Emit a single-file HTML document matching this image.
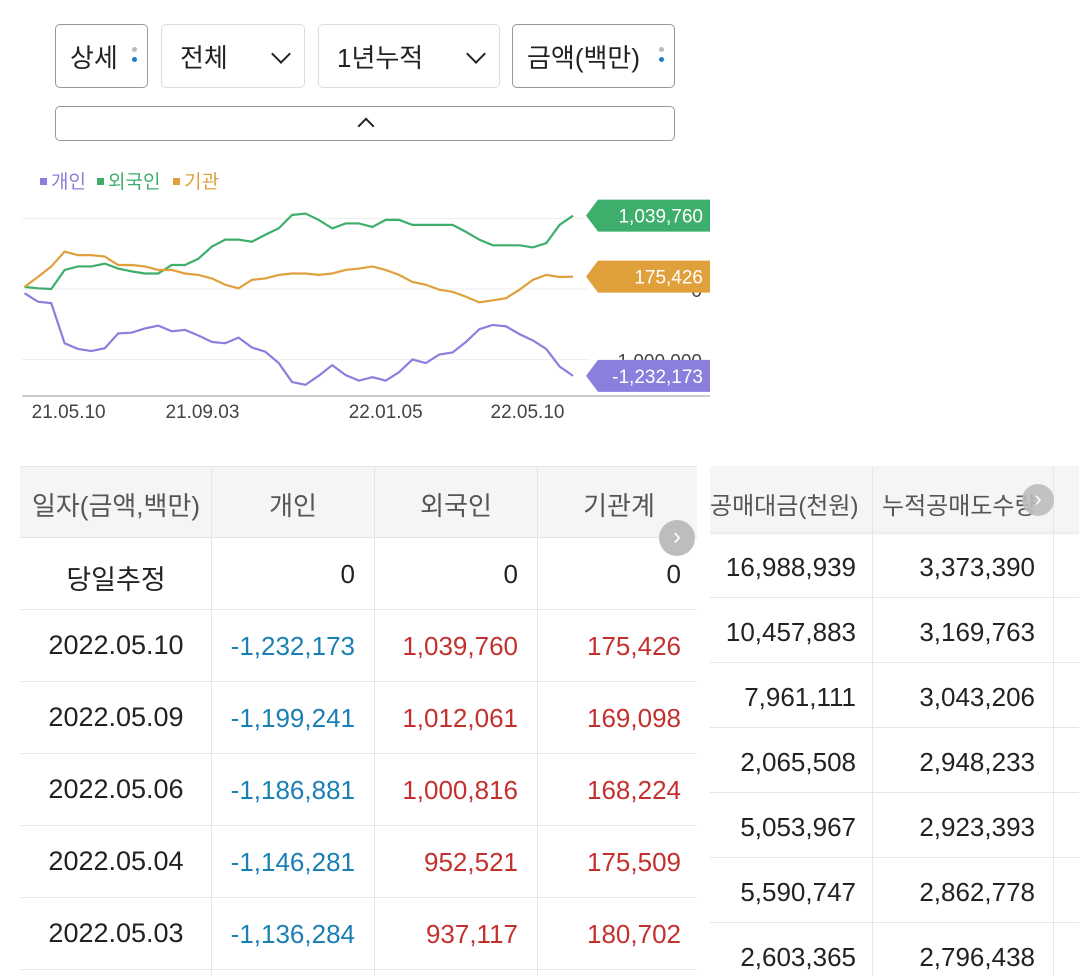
<!DOCTYPE html>
<html><head><meta charset="utf-8">
<style>
*{box-sizing:border-box;margin:0;padding:0}
body{width:1079px;height:976px;background:#fff;font-family:"Liberation Sans","Noto Sans CJK KR",sans-serif;position:relative;overflow:hidden;color:#222}
.box{position:absolute;top:24px;height:64px;border:1px solid #ddd;border-radius:5px;font-size:26px;display:flex;align-items:center;padding-left:14px}
.box.dark{border-color:#999}
.dots{position:absolute;right:10px;top:22px;width:5px}
.dots i{display:block;width:5px;height:5px;border-radius:50%;margin-bottom:5px}
.chev{position:absolute;right:16px;top:22px;width:14px;height:14px;border-right:2.5px solid #222;border-bottom:2.5px solid #222;transform:rotate(45deg)}
.t{position:absolute;font-size:26px;white-space:nowrap}
.r{text-align:right}
.c{text-align:center}
.hl{position:absolute;height:1px;background:#e6e6e6}
.vl{position:absolute;width:1px;background:#e6e6e6}
.blue{color:#1a7fb5}.red{color:#c3312e}
</style></head><body>
<div class="box dark" style="left:55px;width:93px">상세<div class="dots"><i style="background:#bbb"></i><i style="background:#1a7fc8"></i></div></div>
<div class="box" style="left:161px;width:144px;padding-left:18px">전체<div class="chev"></div></div>
<div class="box" style="left:318px;width:182px;padding-left:18px">1년누적<div class="chev"></div></div>
<div class="box dark" style="left:512px;width:163px">금액(백만)<div class="dots"><i style="background:#bbb"></i><i style="background:#1a7fc8"></i></div></div>
<div style="position:absolute;left:55px;top:106px;width:620px;height:35px;border:1px solid #999;border-radius:5px"><div style="position:absolute;left:304px;top:13px;width:12px;height:12px;border-left:2.5px solid #222;border-top:2.5px solid #222;transform:rotate(45deg)"></div></div>

<svg id="chart" style="position:absolute;left:0;top:160px" width="720" height="270"></svg>

<div style="position:absolute;left:20px;top:466px;width:677px;height:71px;background:#f5f5f5"></div>
<div class="hl" style="left:20px;top:466px;width:677px"></div>
<div id="lt"></div>
<div style="position:absolute;left:710px;top:466px;width:369px;height:69px;background:#f5f5f5"></div>
<div id="rt"></div>
<div style="position:absolute;left:659px;top:520px;width:36px;height:36px;border-radius:50%;background:#bdbdbd;color:#fff;font-size:24px;text-align:center;line-height:34px">›</div>
<div style="position:absolute;left:1022px;top:484px;width:32px;height:32px;border-radius:50%;background:#bdbdbd;color:#fff;font-size:22px;text-align:center;line-height:30px;opacity:.9">›</div>

<script>
const NS="http://www.w3.org/2000/svg";
const personal=[-0.06,-0.18,-0.20,-0.77,-0.85,-0.88,-0.84,-0.63,-0.62,-0.56,-0.52,-0.60,-0.58,-0.66,-0.75,-0.77,-0.69,-0.83,-0.89,-1.05,-1.32,-1.36,-1.23,-1.08,-1.22,-1.30,-1.25,-1.30,-1.18,-1.00,-1.05,-0.93,-0.90,-0.75,-0.57,-0.51,-0.53,-0.64,-0.73,-0.85,-1.10,-1.232];
const foreign=[0.03,0.01,0.0,0.27,0.32,0.32,0.36,0.29,0.25,0.22,0.22,0.34,0.34,0.43,0.60,0.70,0.70,0.67,0.77,0.86,1.05,1.07,0.98,0.86,0.93,0.93,0.88,0.98,0.98,0.91,0.91,0.91,0.91,0.81,0.70,0.62,0.62,0.62,0.59,0.65,0.91,1.04];
const inst=[0.03,0.17,0.32,0.53,0.48,0.48,0.46,0.34,0.34,0.32,0.27,0.27,0.22,0.20,0.15,0.06,0.01,0.13,0.15,0.20,0.22,0.22,0.20,0.22,0.27,0.29,0.32,0.27,0.20,0.10,0.06,-0.01,-0.04,-0.11,-0.19,-0.16,-0.13,-0.01,0.13,0.20,0.17,0.175];
const legendNames=["개인","외국인","기관"];
const lastLabels=["-1,232,173","1,039,760","175,426"];
const yTicks=[1,0,-1];
const yTickLabels=["1,000,000","0","-1,000,000"];
const xTicks=["21.05.10","21.09.03","22.01.05","22.05.10"];
const xTickPos=[3.3,13.3,27,37.6];
const colors=["#8a7fdc","#3dae6c","#e0a03c"];
const svg=document.getElementById('chart');
const N=personal.length;
const xs=i=>24.5+i*(573-24.5)/(N-1);
const ys=v=>129-v*70.5;
function el(t,a){const e=document.createElementNS(NS,t);for(const k in a)e.setAttribute(k,a[k]);svg.appendChild(e);return e;}
yTicks.forEach((v,i)=>{
 const g=el('line',{x1:22,x2:590,y1:ys(v),y2:ys(v),stroke:'#eee','stroke-width':1});
 
 
 const t=el('text',{x:702,y:ys(v)+8,'text-anchor':'end','font-size':19,fill:'#444'});
 t.textContent=yTickLabels[i];
 
 
});
const ax=el('line',{x1:22,x2:710,y1:236,y2:236,stroke:'#ccc','stroke-width':2});


xTicks.forEach((s,i)=>{
 const t=el('text',{x:xs(xTickPos[i]),y:258,'text-anchor':'middle','font-size':19,fill:'#444'});
 t.textContent=s;
 
 
});
[personal,foreign,inst].forEach((d,k)=>{
 const p=el('polyline',{points:d.map((v,i)=>xs(i)+','+ys(v)).join(' '),fill:'none',stroke:colors[k],'stroke-width':2.2});
 
 
});
let lx=38;
legendNames.forEach((n,k)=>{
 const r=el('rect',{x:lx+2,y:18,width:7,height:7,fill:colors[k]});
 
 
 const t=el('text',{x:lx+13,y:28,'font-size':19,fill:colors[k]});
 t.textContent=n;
 
 
 lx+=13+n.length*19+6;
});
[personal,foreign,inst].forEach((d,k)=>{
 const y=ys(d[N-1]);
 const p=el('polygon',{points:`586,${y} 598,${y-16} 710,${y-16} 710,${y+16} 598,${y+16}`,fill:colors[k]});
 
 
 const t=el('text',{x:703,y:y+7,'text-anchor':'end','font-size':19,fill:'#fff'});
 t.textContent=lastLabels[k];
 
 
});

const lt=document.getElementById('lt');
function add(parent,html){parent.insertAdjacentHTML('beforeend',html);}
const lh=["일자(금액,백만)","개인","외국인","기관계"];
const lcx=[116,293,456,619];
lh.forEach((h,i)=>add(lt,`<div class="t c" style="left:${lcx[i]-110}px;width:220px;top:486px;color:#555">${h}</div>`));
const rows=[["당일추정","0","0","0"],["2022.05.10","-1,232,173","1,039,760","175,426"],["2022.05.09","-1,199,241","1,012,061","169,098"],["2022.05.06","-1,186,881","1,000,816","168,224"],["2022.05.04","-1,146,281","952,521","175,509"],["2022.05.03","-1,136,284","937,117","180,702"]];
const rEnd=[355,518,681];
[211,374,537].forEach(x=>add(lt,`<div class="vl" style="left:${x}px;top:466px;height:510px"></div>`));
rows.forEach((r,j)=>{
 const top=537+j*72;
 add(lt,`<div class="hl" style="left:20px;top:${top}px;width:677px"></div>`);
 add(lt,`<div class="t c" style="left:6px;width:220px;top:${top+21}px;font-size:27px">${r[0]}</div>`);
 for(let c=1;c<4;c++){const cls=j==0?'':(c==1?'blue':'red');
 add(lt,`<div class="t r ${cls}" style="left:${rEnd[c-1]-200}px;width:200px;top:${top+22}px">${r[c]}</div>`);}
});
add(lt,`<div class="hl" style="left:20px;top:969px;width:677px"></div>`);
const rt=document.getElementById('rt');
add(rt,`<div class="t" style="left:710px;top:486px;width:160px;overflow:hidden;color:#555;font-size:24px">공매대금(천원)</div>`);
add(rt,`<div class="t" style="left:882px;top:486px;width:160px;overflow:hidden;color:#555;font-size:24px">누적공매도수량</div>`);
const rrows=[["16,988,939","3,373,390"],["10,457,883","3,169,763"],["7,961,111","3,043,206"],["2,065,508","2,948,233"],["5,053,967","2,923,393"],["5,590,747","2,862,778"],["2,603,365","2,796,438"]];
[872,1053].forEach(x=>add(rt,`<div class="vl" style="left:${x}px;top:466px;height:510px"></div>`));
rrows.forEach((r,j)=>{
 const top=535+j*65;
 add(rt,`<div class="hl" style="left:710px;top:${top-3}px;width:369px"></div>`);
 add(rt,`<div class="t r" style="left:656px;width:200px;top:${top+17}px">${r[0]}</div>`);
 add(rt,`<div class="t r" style="left:835px;width:200px;top:${top+17}px">${r[1]}</div>`);
});
</script>
</body></html>
